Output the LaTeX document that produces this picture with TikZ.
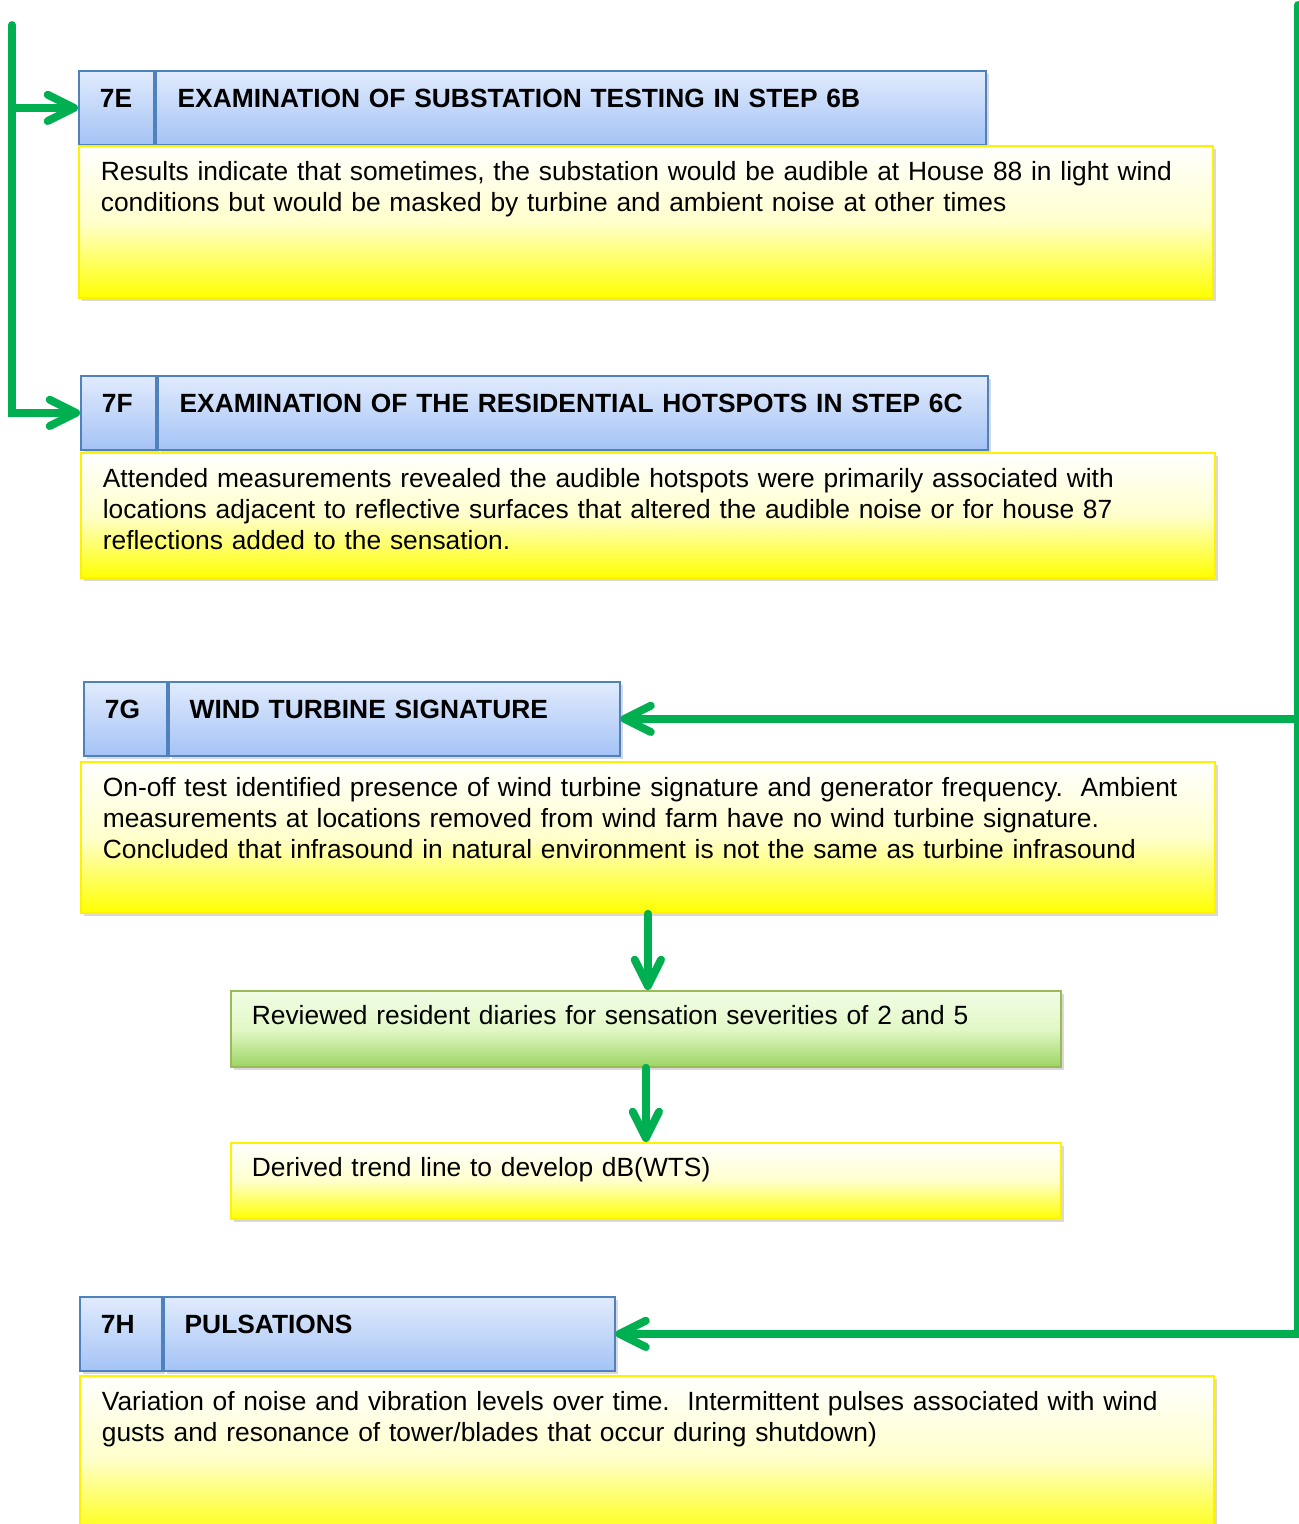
\documentclass[tikz,border=0pt]{standalone}
\usepackage{fontspec}
\setmainfont{Liberation Sans}
\usetikzlibrary{arrows.meta,shadows}
\definecolor{hdrtop}{HTML}{E1EBFD}
\definecolor{hdrbot}{HTML}{A4C3F5}
\definecolor{hdrline}{HTML}{4F81BD}
\definecolor{flowgreen}{HTML}{00B050}
\definecolor{grnline}{HTML}{9BBB59}
\definecolor{grntop}{HTML}{F2FDE6}
\definecolor{grnmid}{HTML}{E2F8C6}
\definecolor{grnbot}{HTML}{9CD565}
\frenchspacing
\begin{document}
\begin{tikzpicture}[
    box/.style={draw, line width=1pt, anchor=north west, inner ysep=0pt, align=left,
      font=\fontsize{15}{17.6}\selectfont,
      drop shadow={shadow xshift=0.07cm, shadow yshift=-0.07cm, opacity=0.3}},
    hdr/.style={box, draw=hdrline, top color=hdrtop, bottom color=hdrbot,
      font=\bfseries\fontsize{15}{17.6}\selectfont, inner xsep=0.42cm,
      text height=0.74cm, text depth=0.74cm},
    note/.style={box, draw=yellow, top color=white, bottom color=yellow, middle color=yellow!20,
      inner xsep=0.44cm, text height=0.70cm},
    step box/.style={box, draw=grnline, top color=grntop, bottom color=grnbot, middle color=grnmid,
      inner xsep=0.42cm, text height=0.68cm, text depth=0.84cm},
    flow/.style={draw=flowgreen, line width=4.5pt, line cap=round,
      -{Straight Barb[length=15pt,width=15pt,line cap=round,line join=round]}}
  ]
  \useasboundingbox (0,0) rectangle (25.98,-30.48);
  % 7E
  \node[hdr, text width=0.66cm] (lab7e) at (1.56,-1.40) {7E};
  \node[hdr, text width=15.72cm, inner xsep=0.44cm] (tit7e) at (lab7e.north east) {EXAMINATION OF SUBSTATION TESTING IN STEP 6B};
  \node[note, text width=21.80cm, text depth=2.34cm] (body7e) at (1.56,-2.90)
    {Results indicate that sometimes, the substation would be audible at House 88 in light wind\\
     conditions but would be masked by turbine and ambient noise at other times};
  % 7F
  \node[hdr, text width=0.66cm] (lab7f) at (1.60,-7.50) {7F};
  \node[hdr, text width=15.72cm, inner xsep=0.44cm] (tit7f) at (lab7f.north east) {EXAMINATION OF THE RESIDENTIAL HOTSPOTS IN STEP 6C};
  \node[note, text width=21.80cm, text depth=1.80cm] (body7f) at (1.60,-9.04)
    {Attended measurements revealed the audible hotspots were primarily associated with\\
     locations adjacent to reflective surfaces that altered the audible noise or for house 87\\
     reflections added to the sensation.};
  % 7G
  \node[hdr, text width=0.82cm] (lab7g) at (1.66,-13.62) {7G};
  \node[hdr, text width=8.18cm] (tit7g) at (lab7g.north east) {WIND TURBINE SIGNATURE};
  \node[note, text width=21.80cm, text depth=2.32cm] (body7g) at (1.60,-15.22)
    {On-off test identified presence of wind turbine signature and generator frequency.~ Ambient\\
     measurements at locations removed from wind farm have no wind turbine signature.\\
     Concluded that infrasound in natural environment is not the same as turbine infrasound};
  \node[step box, text width=15.76cm] (diary) at (4.60,-19.80) {Reviewed resident diaries for sensation severities of 2 and 5};
  \node[note, text width=15.76cm, inner xsep=0.42cm, text height=0.68cm, text depth=0.84cm] (trend) at (4.60,-22.84) {Derived trend line to develop dB(WTS)};
  % 7H
  \node[hdr, text width=0.80cm] (lab7h) at (1.58,-25.92) {7H};
  \node[hdr, text width=8.18cm] (tit7h) at (lab7h.north east) {PULSATIONS};
  \node[note, text width=21.80cm, text depth=2.60cm] (body7h) at (1.58,-27.50)
    {Variation of noise and vibration levels over time.~ Intermittent pulses associated with wind\\
     gusts and resonance of tower/blades that occur during shutdown)};
  % connectors
  \coordinate (ltop) at (0.24,-0.50);
  \coordinate (rtop) at (25.96,-0.10);
  \draw[flow] (ltop |- lab7e.west) -- (lab7e.west);
  \draw[flow] (ltop) |- (lab7f.west);
  \draw[flow] (rtop |- tit7g.east) -- (tit7g.east);
  \draw[flow] (rtop) |- (tit7h.east);
  \draw[flow] (body7g.south) -- (body7g.south |- diary.north);
  \draw[flow] (diary.south) -- (diary.south |- trend.north);
\end{tikzpicture}
\end{document}
